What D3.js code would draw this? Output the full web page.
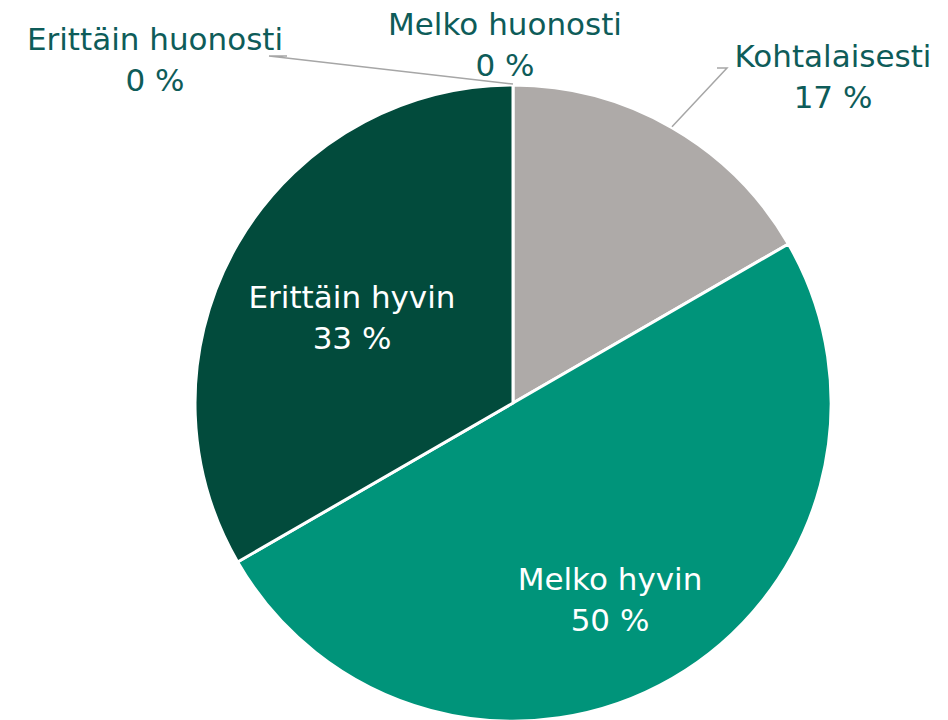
<!DOCTYPE html>
<html lang="fi">
<head>
  <meta charset="utf-8">
  <title>Piirakka</title>
  <script src="https://d3js.org/d3.v7.min.js"></script>
  <style>
    body { margin: 0; background: #fff; }
    #chart text { font-family: "DejaVu Sans", Verdana, sans-serif; font-size: 31px; text-anchor: middle; }
  </style>
</head>
<body>
  <div id="chart"></div>
  <script>
    // data: luokat, vastaajien määrät (6 vastaajaa), värit
    const luokat = ["Erittäin huonosti", "Melko huonosti", "Kohtalaisesti", "Melko hyvin", "Erittäin hyvin"];
    const maarat = [0, 0, 1, 3, 2];
    const varit = ["#7f7f7f", "#c8c8c8", "#aeaaa8", "#00947a", "#024b3c"];

    const leveys = 948, korkeus = 720;
    const cx = 513, cy = 403, r = 318;

    // label layout: where each label sits relative to the pie center (pixels)
    // inside = drawn in white on the slice, else outside with a leader line
    const sijoittelu = [
      { dx: -358, dy: -353, inside: false, leader: [[-244, -347], [-226, -347]] },
      { dx: -8, dy: -368, inside: false, leader: null },
      { dx: 320, dy: -336, inside: false, leader: [[214, -335], [204, -335]] },
      { dx: 97, dy: 187, inside: true, leader: null },
      { dx: -161, dy: -95, inside: true, leader: null }
    ];

    const total = d3.sum(maarat);
    const dados = luokat.map((l, i) => ({ luokka: l, arvo: maarat[i], vari: varit[i], pos: sijoittelu[i] }));

    const svg = d3.select("#chart").append("svg")
      .attr("width", leveys).attr("height", korkeus);
    const g = svg.append("g").attr("transform", `translate(${cx},${cy})`);

    const pie = d3.pie().sort(null).value(d => d.arvo);
    const arc = d3.arc().innerRadius(0).outerRadius(r);
    const kaaret = pie(dados);

    g.selectAll("path.slice")
      .data(kaaret.filter(d => d.data.arvo > 0))
      .join("path")
      .attr("class", "slice")
      .attr("d", arc)
      .attr("fill", d => d.data.vari)
      .attr("stroke", "#fff")
      .attr("stroke-width", 3)
      .attr("stroke-linejoin", "round");

    // leader lines: start from the slice's outer edge at its mid angle
    const pct = v => Math.round(v / total * 100) + " %";
    kaaret.forEach(d => {
      const p = d.data.pos;
      if (!p.leader) return;
      const a = (d.startAngle + d.endAngle) / 2;
      const start = [Math.sin(a) * r, -Math.cos(a) * (r + 1)];
      g.append("polyline")
        .attr("points", [start, ...p.leader].map(q => q.join(",")).join(" "))
        .attr("fill", "none")
        .attr("stroke", "#a6a6a6")
        .attr("stroke-width", 1.5);
    });

    const labels = g.selectAll("text.lbl")
      .data(kaaret)
      .join("text")
      .attr("class", "lbl")
      .attr("fill", d => d.data.pos.inside ? "#ffffff" : "#0e5c59")
      .attr("transform", d => `translate(${d.data.pos.dx},${d.data.pos.dy})`);
    labels.append("tspan").attr("x", 0).attr("y", 0).text(d => d.data.luokka);
    labels.append("tspan").attr("x", 0).attr("y", 41).text(d => pct(d.data.arvo));
  </script>
</body>
</html>
